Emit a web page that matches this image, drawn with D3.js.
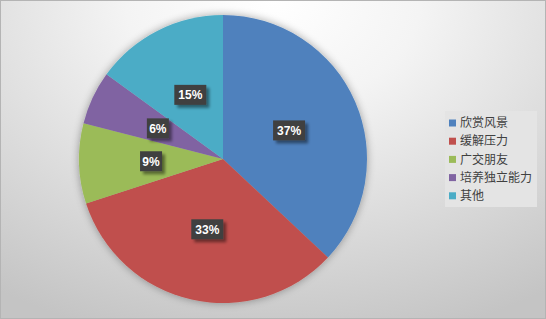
<!DOCTYPE html>
<html>
<head>
<meta charset="utf-8">
<script src="https://cdn.jsdelivr.net/npm/d3@7"></script>
<style>
  body { margin: 0; }
  svg { display: block; }
</style>
</head>
<body>
<div id="chart"></div>
<script>
var categories = ["欣赏风景", "缓解压力", "广交朋友", "培养独立能力", "其他"];
var values = [37, 33, 9, 6, 15];
var colors = ["#4F81BD", "#C0504D", "#9BBB59", "#8064A2", "#4BACC6"];

var width = 546, height = 319;
var cx = 223, cy = 159, radius = 144;

var svg = d3.select("#chart").append("svg")
    .attr("width", width)
    .attr("height", height);

var defs = svg.append("defs");
var bg = defs.append("radialGradient")
    .attr("id", "bg")
    .attr("cx", "50%").attr("cy", "0%")
    .attr("r", "100%")
    .attr("gradientTransform", "translate(0.5,0) scale(0.9,1.1) translate(-0.5,0)");
bg.append("stop").attr("offset", "0%").attr("stop-color", "#ffffff");
bg.append("stop").attr("offset", "30%").attr("stop-color", "#f4f4f4");
bg.append("stop").attr("offset", "100%").attr("stop-color", "#c4c4c4");

var glow = defs.append("filter").attr("id", "glow")
    .attr("x", "-20%").attr("y", "-20%").attr("width", "140%").attr("height", "140%");
glow.append("feGaussianBlur").attr("in", "SourceAlpha").attr("stdDeviation", 4);
glow.append("feComponentTransfer").append("feFuncA").attr("type", "linear").attr("slope", 0.35);
var gm = glow.append("feMerge");
gm.append("feMergeNode");
gm.append("feMergeNode").attr("in", "SourceGraphic");

var shadow = defs.append("filter").attr("id", "shadow")
    .attr("x", "-30%").attr("y", "-30%").attr("width", "170%").attr("height", "170%");
shadow.append("feGaussianBlur").attr("in", "SourceAlpha").attr("stdDeviation", 1.5);
shadow.append("feOffset").attr("dx", 3).attr("dy", 3).attr("result", "off");
shadow.append("feComponentTransfer").append("feFuncA").attr("type", "linear").attr("slope", 0.45);
var sm = shadow.append("feMerge");
sm.append("feMergeNode");
sm.append("feMergeNode").attr("in", "SourceGraphic");

svg.append("rect")
    .attr("x", 0.5).attr("y", 0.5)
    .attr("width", width - 1).attr("height", height - 1)
    .attr("fill", "url(#bg)")
    .attr("stroke", "#b4b4b4");

var pie = d3.pie().sort(null).value(d => d);
var arcs = pie(values);
var arc = d3.arc().innerRadius(0).outerRadius(radius);
var labelArc = d3.arc().innerRadius(radius * 0.5).outerRadius(radius * 0.5);

var g = svg.append("g").attr("transform", "translate(" + cx + "," + cy + ")");

g.append("g").attr("filter", "url(#glow)")
    .selectAll("path")
    .data(arcs)
    .enter()
    .append("path")
    .attr("d", arc)
    .attr("fill", (d, i) => colors[i]);

var labels = g.selectAll(".lbl")
    .data(arcs)
    .enter()
    .append("g")
    .attr("class", "lbl")
    .attr("transform", d => "translate(" + labelArc.centroid(d) + ")");

labels.append("rect")
    .attr("x", d => d.data >= 10 ? -16 : -11)
    .attr("y", -10)
    .attr("width", d => d.data >= 10 ? 32 : 22)
    .attr("height", 20)
    .attr("fill", "#404040")
    .attr("filter", "url(#shadow)");

labels.append("text")
    .attr("text-anchor", "middle")
    .attr("dy", "0.36em")
    .attr("fill", "#ffffff")
    .attr("font-family", "'Liberation Sans', Arial, sans-serif")
    .attr("font-weight", "bold")
    .attr("font-size", 12)
    .text(d => d.data + "%");

var legend = svg.append("g").attr("transform", "translate(445,111)");
legend.append("rect")
    .attr("width", 92).attr("height", 96)
    .attr("fill", "#e4e4e4");

var items = legend.selectAll(".item")
    .data(categories)
    .enter()
    .append("g")
    .attr("transform", (d, i) => "translate(4," + (12 + i * 18.2) + ")");

items.append("rect")
    .attr("x", 0).attr("y", -3.5)
    .attr("width", 7).attr("height", 7)
    .attr("fill", (d, i) => colors[i]);

items.append("text")
    .attr("x", 11)
    .attr("dy", "0.35em")
    .attr("fill", "#404040")
    .attr("font-family", "'Noto Sans CJK SC', sans-serif")
    .attr("font-size", 12)
    .text(d => d);
</script>
</body>
</html>
